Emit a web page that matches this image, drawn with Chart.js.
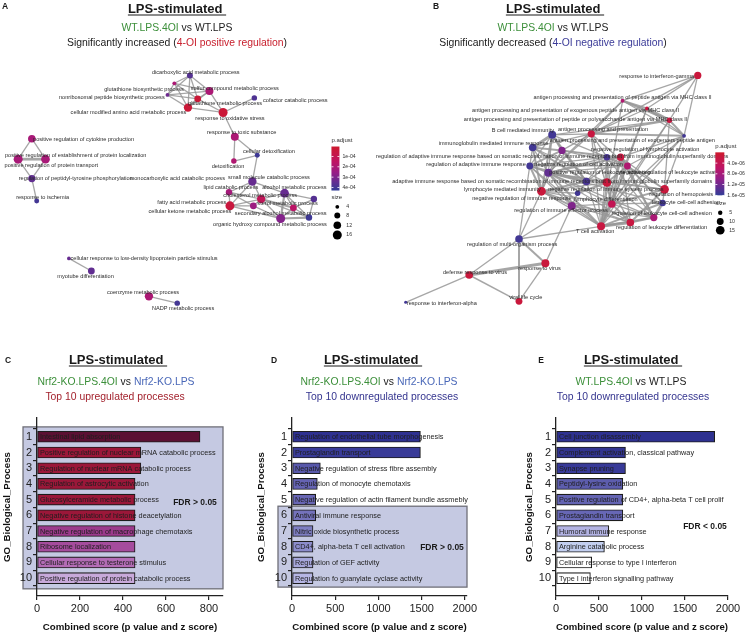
<!DOCTYPE html>
<html>
<head>
<meta charset="utf-8">
<script src="https://cdn.jsdelivr.net/npm/chart.js@4.4.0/dist/chart.umd.min.js"></script>
<style>
  html, body { margin: 0; padding: 0; background: #fff; }
  #fig { position: relative; width: 748px; height: 633px; overflow: hidden;
         font-family: "Liberation Sans", Arial, sans-serif; color: #1a1a1a; }
  canvas { position: absolute; }
  .t { position: absolute; transform: translate(-50%, -50%); white-space: nowrap; line-height: 1; z-index: 2; }
  .hd { font-weight: bold; font-size: 13px; text-decoration: underline; text-underline-offset: 2px; }
  .sub { font-size: 10.4px; }
  .lt { font-weight: bold; font-size: 8.5px; }
  .fdr { font-weight: bold; font-size: 8.5px; }
  .g { color: #3c8f3a; }
  .r { color: #c8202e; }
  .b { color: #3b3b98; }
  .kb { color: #4a68b8; }
  .up { color: #a3222d; }
  .dn { color: #35358f; }
</style>
</head>
<body>
<div id="fig">
  <canvas id="netA" width="374" height="330" style="left:0;top:0"></canvas>
  <canvas id="netB" width="374" height="330" style="left:374px;top:0"></canvas>
  <canvas id="barC" width="250" height="303" style="left:0;top:330px"></canvas>
  <canvas id="barD" width="250" height="303" style="left:250px;top:330px"></canvas>
  <canvas id="barE" width="250" height="303" style="left:498px;top:330px"></canvas>

  <div class="t lt" style="left:5px;top:6px">A</div>
  <div class="t hd" style="left:177px;top:8px">LPS-stimulated&nbsp;</div>
  <div class="t sub" style="left:177px;top:28px"><span class="g">WT.LPS.4OI</span> vs WT.LPS</div>
  <div class="t sub" style="left:177px;top:43px">Significantly increased (<span class="r">4-OI positive regulation</span>)</div>

  <div class="t lt" style="left:436px;top:6px">B</div>
  <div class="t hd" style="left:555px;top:8px">LPS-stimulated&nbsp;</div>
  <div class="t sub" style="left:553px;top:28px"><span class="g">WT.LPS.4OI</span> vs WT.LPS</div>
  <div class="t sub" style="left:553px;top:43px">Significantly decreased (<span class="b">4-OI negative regulation</span>)</div>

  <div class="t lt" style="left:8px;top:360px">C</div>
  <div class="t hd" style="left:118px;top:359px">LPS-stimulated&nbsp;</div>
  <div class="t sub" style="left:116px;top:382px"><span class="g">Nrf2-KO.LPS.4OI</span> vs <span class="kb">Nrf2-KO.LPS</span></div>
  <div class="t sub up" style="left:115px;top:397px">Top 10 upregulated processes</div>
  <div class="t fdr" style="left:195px;top:502px">FDR &gt; 0.05</div>

  <div class="t lt" style="left:274px;top:360px">D</div>
  <div class="t hd" style="left:373px;top:359px">LPS-stimulated&nbsp;</div>
  <div class="t sub" style="left:379px;top:382px"><span class="g">Nrf2-KO.LPS.4OI</span> vs <span class="kb">Nrf2-KO.LPS</span></div>
  <div class="t sub dn" style="left:382px;top:397px">Top 10 downregulated processes</div>
  <div class="t fdr" style="left:442px;top:547px">FDR &gt; 0.05</div>

  <div class="t lt" style="left:541px;top:360px">E</div>
  <div class="t hd" style="left:633px;top:359px">LPS-stimulated&nbsp;</div>
  <div class="t sub" style="left:631px;top:382px"><span class="g">WT.LPS.4OI</span> vs WT.LPS</div>
  <div class="t sub dn" style="left:633px;top:397px">Top 10 downregulated processes</div>
  <div class="t fdr" style="left:705px;top:526px">FDR &lt; 0.05</div>
</div>

<script>
// ---- bar panels (C, D, E) ----
const rank = [1, 2, 3, 4, 5, 6, 7, 8, 9, 10];

const cTerms = [
  'Intestinal lipid absorption',
  'Positive regulation of nuclear mRNA catabolic process',
  'Regulation of nuclear mRNA catabolic process',
  'Regulation of astrocytic activation',
  'Glucosylceramide metabolic process',
  'Negative regulation of histone deacetylation',
  'Negative regulation of macrophage chemotaxis',
  'Ribosome localization',
  'Cellular response to testerone stimulus',
  'Positive regulation of protein catabolic process'
];
const cScores = [758, 483, 483, 456, 456, 456, 456, 456, 456, 456];
const cTicks = [0, 200, 400, 600, 800];

const dTerms = [
  'Regulation of endothelial tube morphogenesis',
  'Prostaglandin transport',
  'Negative regulation of stress fibre assembly',
  'Regulation of monocyte chemotaxis',
  'Negative regulation of actin filament bundle assmebly',
  'Antiviral immune response',
  'Nitric oxide biosynthetic process',
  'CD4+, alpha-beta T cell activation',
  'Regulation of GEF activity',
  'Regulation fo guanylate cyclase activity'
];
const dScores = [1486, 1486, 328, 293, 274, 274, 243, 243, 243, 243];

const eTerms = [
  'Cell junction disassembly',
  'Complement activation, classical pathway',
  'Synapse pruning',
  'Peptidyl-lysine oxidation',
  'Positive regulation of CD4+, alpha-beta T cell prolif',
  'Prostaglandin transport',
  'Humoral immune response',
  'Arginine catabolic process',
  'Cellular response to type I interferon',
  'Type I interferon signalling pathway'
];
const eScores = [1845, 808, 808, 777, 777, 777, 614, 563, 415, 400];
const deTicks = [0, 500, 1000, 1500, 2000];

// bar fill colours
const cColors = ['#5b1033', '#9b1739', '#9b1739', '#9b1739', '#9b1739', '#9b1739',
                 '#9c3a8c', '#a54c9d', '#b36cb5', '#c8a9da'];
const dColors = ['#2e3090', '#393b98', '#5858aa', '#6563b2', '#6866b4', '#7472bc',
                 '#7e7ec2', '#8c8ccb', '#a6a6da', '#b6b6e4'];
const eColors = ['#2e3190', '#32348f', '#383a98', '#5d5dae', '#6464b3', '#6767b5',
                 '#b3b3e3', '#c3cff0', '#ffffff', '#ffffff'];

// ---- network panels (A, B) ----
const aIds = ['dicarb', 'gbio', 'sulfur', 'nonrib', 'gmet', 'cmaa', 'cofact', 'ros', 'rts',
  'pcyto', 'cdetox', 'pepl', 'ppt', 'rptp', 'isch', 'detox', 'smc', 'mcc', 'alcohol', 'chol',
  'ster', 'fatty', 'ketone', 'lipid', 'secalc', 'ohc', 'ldl', 'myo', 'coenz', 'nadp'];
const aNames = ['dicarboxylic acid metabolic process', 'glutathione biosynthetic process',
  'sulfur compound metabolic process', 'nonribosomal peptide biosynthetic process',
  'glutathione metabolic process', 'cellular modified amino acid metabolic process',
  'cofactor catabolic process', 'response to oxidative stress', 'response to toxic substance',
  'positive regulation of cytokine production', 'cellular detoxification',
  'positive regulation of establishment of protein localization',
  'positive regulation of protein transport', 'regulation of peptidyl-tyrosine phosphorylation',
  'response to ischemia', 'detoxification', 'small molecule catabolic process',
  'monocarboxylic acid catabolic process', 'alcohol metabolic process',
  'cholesterol metabolic process', 'sterol metabolic process', 'fatty acid metabolic process',
  'cellular ketone metabolic process', 'lipid catabolic process',
  'secondary alcohol metabolic process', 'organic hydroxy compound metabolic process',
  'cellular response to low-density lipoprotein particle stimulus', 'myotube differentiation',
  'coenzyme metabolic process', 'NADP metabolic process'];
const aX = [190, 174, 210, 167, 198, 188, 256, 224, 236, 28, 259, 14, 42, 28, 33, 235, 254, 230,
  287, 263, 296, 231, 255, 317, 312, 283, 66, 89, 148, 177];
const aY = [73, 81, 89, 93, 97, 106, 96, 111, 136, 138, 155, 159, 159, 179, 202, 161, 182, 193,
  194, 200, 209, 207, 207, 200, 219, 220, 261, 274, 300, 307];
const aSize = [8, 4, 13, 4, 10, 14, 7, 16, 13, 12, 6, 16, 15, 11, 6, 7, 14, 9, 15, 14, 10, 16,
  10, 9, 9, 16, 4, 10, 14, 7];
const aPadj = [3.7e-4, 2.0e-4, 2.0e-4, 3.3e-4, 0.3e-4, 0.3e-4, 3.8e-4, 0.3e-4, 2.0e-4, 2.1e-4,
  4.1e-4, 2.1e-4, 2.1e-4, 3.5e-4, 4.0e-4, 1.9e-4, 3.4e-4, 2.2e-4, 3.4e-4, 1.2e-4, 1.6e-4, 0.5e-4,
  2.4e-4, 3.7e-4, 4.1e-4, 2.9e-4, 3.4e-4, 3.5e-4, 2.0e-4, 4.0e-4];
const aLabelX = [196, 143, 236, 110, 226, 127, 298, 231, 243, 81, 271, 73, 48, 73, 39, 229, 271,
  177, 297, 262, 290, 192, 190, 232, 283, 272, 143, 83, 142, 183];
const aLabelY = [70, 87, 86, 96, 102, 111, 99, 117, 132, 139, 151, 155, 165, 179, 198, 166, 178,
  179, 188, 196, 205, 204, 213, 188, 215, 226, 261, 280, 296, 312];
const aEdges = [
  ['dicarb', 'gbio'], ['dicarb', 'nonrib'], ['dicarb', 'gmet'], ['dicarb', 'cmaa'], ['dicarb', 'sulfur'],
  ['gbio', 'nonrib'], ['gbio', 'gmet'], ['gbio', 'cmaa'], ['gbio', 'sulfur'], ['nonrib', 'gmet'],
  ['nonrib', 'cmaa'], ['nonrib', 'sulfur'], ['gmet', 'cmaa', 2.2], ['gmet', 'sulfur'], ['cmaa', 'sulfur'],
  ['gmet', 'ros'], ['cmaa', 'ros'], ['sulfur', 'ros'], ['cofact', 'ros'], ['ros', 'rts'],
  ['rts', 'cdetox'], ['rts', 'detox'], ['detox', 'cdetox'], ['cdetox', 'smc'],
  ['smc', 'mcc'], ['smc', 'alcohol'], ['smc', 'chol'], ['smc', 'fatty'], ['mcc', 'fatty'],
  ['mcc', 'chol'], ['mcc', 'ketone'], ['alcohol', 'chol'], ['alcohol', 'ster'], ['alcohol', 'lipid'],
  ['alcohol', 'secalc'], ['alcohol', 'ohc', 2.2], ['chol', 'fatty'], ['chol', 'ster', 2.2], ['chol', 'ketone'],
  ['chol', 'ohc'], ['chol', 'secalc'], ['fatty', 'ketone'], ['fatty', 'ohc'], ['ster', 'lipid'],
  ['ster', 'secalc'], ['ster', 'ohc'], ['secalc', 'ohc', 2.2], ['lipid', 'secalc'], ['ketone', 'ohc'],
  ['pcyto', 'pepl'], ['pcyto', 'ppt'], ['pepl', 'ppt', 2.8], ['pepl', 'rptp'], ['ppt', 'rptp'],
  ['rptp', 'isch'], ['ldl', 'myo'], ['coenz', 'nadp']
];
const aPadjTicks = [1e-4, 2e-4, 3e-4, 4e-4];
const aPadjLabels = ['1e-04', '2e-04', '3e-04', '4e-04'];
const aSizeTicks = [4, 8, 12, 16];

const bIds = ['ifng', 'mhc2', 'exmhc2', 'polymhc2', 'exo', 'bcell', 'app', 'igmed', 'radsr', 'nrla',
  'rla', 'nrca', 'raim', 'prla', 'airs', 'nrisp', 'nrir', 'lmi', 'rhemo', 'ldiff', 'lcca', 'riep',
  'rlcca', 'rld', 'tcell', 'rmop', 'rvirus', 'drv', 'vlc', 'ifna'];
const bNames = ['response to interferon-gamma',
  'antigen processing and presentation of peptide antigen via MHC class II',
  'antigen processing and presentation of exogenous peptide antigen via MHC class II',
  'antigen processing and presentation of peptide or polysaccharide antigen via MHC class II',
  'antigen processing and presentation of exogenous peptide antigen',
  'B cell mediated immunity', 'antigen processing and presentation',
  'immunoglobulin mediated immune response',
  'regulation of adaptive immune response based on somatic recombination of immune receptors built from immunoglobulin superfamily domains',
  'negative regulation of lymphocyte activation', 'negative regulation of leukocyte activation',
  'negative regulation of cell activation', 'regulation of adaptive immune response',
  'positive regulation of leukocyte activation',
  'adaptive immune response based on somatic recombination of immune receptors built from immunoglobulin superfamily domains',
  'negative regulation of immune system process', 'negative regulation of immune response',
  'lymphocyte mediated immunity', 'regulation of hemopoiesis', 'lymphocyte differentiation',
  'leukocyte cell-cell adhesion', 'regulation of immune effector process',
  'regulation of leukocyte cell-cell adhesion', 'regulation of leukocyte differentiation',
  'T cell activation', 'regulation of multi-organism process', 'response to virus',
  'defense response to virus', 'viral life cycle', 'response to interferon-alpha'];
const bX = [701, 624, 649, 672, 687, 552, 592, 532, 562, 608, 622, 629, 529, 548, 587, 608, 578,
  541, 667, 613, 665, 572, 656, 632, 602, 518, 545, 467, 518, 402];
const bY = [73, 99, 107, 119, 135, 134, 133, 147, 150, 157, 157, 166, 166, 173, 182, 183, 194,
  192, 190, 205, 204, 207, 219, 224, 228, 241, 266, 278, 305, 306];
const bSize = [11, 4, 4, 7, 4, 13, 11, 12, 11, 9, 11, 10, 10, 13, 12, 15, 7, 15, 15, 12, 9, 13,
  11, 12, 13, 12, 13, 12, 10, 3];
const bPadj = [1.5e-6, 7e-6, 2e-6, 2e-6, 1.5e-5, 1.5e-5, 2e-6, 1.5e-5, 1.1e-5, 1.45e-5, 2e-6,
  7e-6, 1.5e-5, 1.3e-5, 1.45e-5, 1.5e-6, 1.5e-5, 1.5e-6, 1.5e-6, 4e-6, 1.5e-5, 1.1e-5, 7.5e-6,
  2e-6, 2e-6, 1.5e-5, 1.5e-6, 1.5e-6, 1.5e-6, 1.5e-5];
const bLabelX = [659, 624, 576, 576, 634, 522, 604, 492, 552, 647, 674, 579, 474, 601, 552, 607,
  521, 501, 684, 607, 689, 561, 664, 664, 596, 511, 539, 473, 525, 439];
const bLabelY = [74, 96, 109, 118, 140, 130, 128, 143, 156, 149, 173, 164, 164, 173, 182, 190,
  199, 190, 195, 200, 203, 212, 215, 229, 233, 247, 271, 275, 301, 307];
const bEdges = [
  ['ifng', 'mhc2'], ['ifng', 'exo'], ['ifng', 'polymhc2'], ['ifng', 'app'], ['ifng', 'exmhc2'],
  ['mhc2', 'exmhc2', 2], ['mhc2', 'polymhc2', 2], ['mhc2', 'app'], ['mhc2', 'exo'], ['mhc2', 'tcell'],
  ['mhc2', 'prla'], ['exmhc2', 'polymhc2', 3], ['exmhc2', 'app'], ['exmhc2', 'exo'], ['exmhc2', 'ldiff'],
  ['exmhc2', 'tcell'], ['polymhc2', 'exo', 2], ['polymhc2', 'app', 2], ['polymhc2', 'rhemo'],
  ['polymhc2', 'bcell'], ['polymhc2', 'tcell'], ['polymhc2', 'ldiff'],
  ['app', 'exo', 2], ['app', 'bcell'], ['app', 'igmed'], ['app', 'radsr'], ['app', 'nrca'], ['app', 'nrla'],
  ['app', 'prla'], ['app', 'tcell'], ['app', 'ldiff'],
  ['exo', 'nrca'], ['exo', 'rhemo'], ['exo', 'tcell'], ['exo', 'ldiff'], ['exo', 'rla'],
  ['bcell', 'igmed', 3], ['bcell', 'radsr', 2], ['bcell', 'lmi', 2], ['bcell', 'airs', 2], ['bcell', 'raim'],
  ['bcell', 'nrla'], ['bcell', 'prla'],
  ['igmed', 'radsr', 2], ['igmed', 'lmi', 2], ['igmed', 'airs', 2], ['igmed', 'raim'], ['igmed', 'prla'],
  ['igmed', 'nrisp'],
  ['radsr', 'raim', 2], ['radsr', 'airs', 2], ['radsr', 'lmi'], ['radsr', 'nrla'], ['radsr', 'prla'],
  ['radsr', 'nrca'], ['radsr', 'rla'],
  ['raim', 'airs', 2], ['raim', 'lmi', 2], ['raim', 'prla'], ['raim', 'riep'], ['raim', 'nrla'],
  ['raim', 'tcell'], ['raim', 'nrca'],
  ['airs', 'lmi', 2], ['airs', 'prla'], ['airs', 'nrisp'], ['airs', 'nrla'], ['airs', 'rla'], ['airs', 'tcell'],
  ['lmi', 'prla'], ['lmi', 'riep', 2], ['lmi', 'tcell'], ['lmi', 'nrisp'], ['lmi', 'ldiff'], ['lmi', 'rld'],
  ['nrla', 'nrca', 2], ['nrla', 'rla', 3], ['nrla', 'prla'], ['nrla', 'nrisp', 2], ['nrla', 'ldiff'],
  ['nrla', 'rlcca'], ['nrla', 'tcell'], ['rla', 'nrca', 2], ['rla', 'prla', 2], ['rla', 'ldiff', 2],
  ['rla', 'tcell', 2], ['rla', 'rlcca', 2], ['rla', 'rld'], ['rla', 'lcca'], ['rla', 'rhemo'],
  ['nrca', 'prla'], ['nrca', 'nrisp', 2], ['nrca', 'ldiff'], ['nrca', 'rlcca'], ['nrca', 'tcell'],
  ['nrca', 'lcca'], ['nrca', 'rhemo'], ['prla', 'nrisp'], ['prla', 'ldiff'], ['prla', 'tcell', 2],
  ['prla', 'rlcca'], ['prla', 'riep'], ['prla', 'rld'], ['prla', 'lcca'], ['prla', 'rhemo'],
  ['nrisp', 'nrir', 2], ['nrisp', 'ldiff'], ['nrisp', 'tcell'], ['nrisp', 'rhemo'], ['nrisp', 'rld'],
  ['nrisp', 'rlcca'], ['nrir', 'riep'], ['nrir', 'lmi'], ['nrir', 'airs'],
  ['ldiff', 'tcell', 2], ['ldiff', 'rld', 2], ['ldiff', 'rlcca'], ['ldiff', 'lcca'], ['ldiff', 'rhemo', 2],
  ['tcell', 'rld', 3], ['tcell', 'rlcca', 2], ['tcell', 'lcca', 2], ['rld', 'rlcca', 2], ['rld', 'rhemo', 2],
  ['rlcca', 'lcca', 3], ['lcca', 'rhemo'], ['riep', 'tcell'], ['riep', 'ldiff'], ['riep', 'rld'],
  ['riep', 'rlcca'],
  ['rmop', 'lmi'], ['rmop', 'riep'], ['rmop', 'tcell'], ['rmop', 'raim'], ['rmop', 'rvirus', 2],
  ['rmop', 'drv'], ['rmop', 'vlc', 2], ['rvirus', 'drv', 3], ['rvirus', 'vlc'], ['rvirus', 'riep'],
  ['drv', 'vlc', 1.5], ['drv', 'ifna']
];
const bPadjTicks = [4e-6, 8e-6, 1.2e-5, 1.6e-5];
const bPadjLabels = ['4.0e-06', '8.0e-06', '1.2e-05', '1.6e-05'];
const bSizeTicks = [5, 10, 15];

// p.adjust colour ramp: low (red) -> high (blue)
const ramp = [[0, [205, 25, 45]], [0.35, [190, 20, 100]], [0.6, [150, 30, 135]],
              [0.8, [100, 45, 145]], [1, [50, 60, 150]]];

function rampColor(t) {
    t = Math.max(0, Math.min(1, t));
    for (let i = 1; i < ramp.length; i++) {
        if (t <= ramp[i][0]) {
            const [t0, c0] = ramp[i - 1];
            const [t1, c1] = ramp[i];
            const f = (t - t0) / (t1 - t0);
            const c = c0.map((v, k) => Math.round(v + (c1[k] - v) * f));
            return `rgb(${c[0]},${c[1]},${c[2]})`;
        }
    }
    return 'rgb(50,60,150)';
}

function nodeRadius(size) {
    return 1.3 * Math.sqrt(size) - 0.7;
}

const labelFont = '5.6px "Liberation Sans", Arial, sans-serif';

function netChart(id, net, lg) {
    const idx = {};
    net.ids.forEach((k, i) => { idx[k] = i; });
    const pt = i => ({ x: net.x[i], y: net.y[i] });

    const edgeSets = net.edges.map(e => ({
        data: [pt(idx[e[0]]), pt(idx[e[1]])],
        showLine: true,
        borderColor: 'rgba(150,150,150,0.85)',
        borderWidth: e[2] || 1.3,
        pointRadius: 0,
        clip: false,
        order: 1
    }));

    const labels = {
        id: 'netLabels',
        afterDatasetsDraw(chart) {
            const { ctx, scales: { x, y } } = chart;
            ctx.save();
            ctx.font = labelFont;
            ctx.fillStyle = '#2b2b2b';
            ctx.textAlign = 'center';
            ctx.textBaseline = 'middle';
            net.names.forEach((n, i) => {
                ctx.fillText(n, x.getPixelForValue(net.lx[i]), y.getPixelForValue(net.ly[i]));
            });

            // p.adjust colour bar
            const bx = x.getPixelForValue(lg.barX);
            const by = y.getPixelForValue(lg.barTop);
            const grd = ctx.createLinearGradient(0, by, 0, by + lg.barH);
            ramp.forEach(s => grd.addColorStop(s[0], rampColor(s[0])));
            ctx.fillStyle = grd;
            ctx.fillRect(bx, by, lg.barW, lg.barH);
            ctx.fillStyle = '#333';
            ctx.textAlign = 'left';
            ctx.font = '6px "Liberation Sans", Arial, sans-serif';
            ctx.fillText('p.adjust', bx, by - 6);
            ctx.font = '5.2px "Liberation Sans", Arial, sans-serif';
            lg.ticks.forEach((v, i) => {
                const ty = by + (v - net.pMin) / (net.pMax - net.pMin) * lg.barH;
                ctx.fillStyle = '#fff';
                ctx.fillRect(bx, ty - 0.4, 2, 0.8);
                ctx.fillRect(bx + lg.barW - 2, ty - 0.4, 2, 0.8);
                ctx.fillStyle = '#333';
                ctx.fillText(lg.tickLabels[i], bx + lg.barW + 3, ty);
            });

            // size legend
            ctx.font = '6px "Liberation Sans", Arial, sans-serif';
            ctx.fillText('size', bx, y.getPixelForValue(lg.sizeTitleY));
            ctx.font = '5.2px "Liberation Sans", Arial, sans-serif';
            lg.sizes.forEach((s, i) => {
                const cy = y.getPixelForValue(lg.sizeY[i]);
                const cx = x.getPixelForValue(lg.sizeX);
                ctx.fillStyle = '#000';
                ctx.beginPath();
                ctx.arc(cx, cy, nodeRadius(s), 0, Math.PI * 2);
                ctx.fill();
                ctx.fillStyle = '#333';
                ctx.fillText(String(s), cx + 9, cy);
            });
            ctx.restore();
        }
    };

    return new Chart(document.getElementById(id), {
        type: 'scatter',
        data: {
            datasets: [{
                data: net.x.map((v, i) => pt(i)),
                pointRadius: net.size.map(nodeRadius),
                pointBackgroundColor: net.padj.map(p => rampColor((p - net.pMin) / (net.pMax - net.pMin))),
                pointBorderWidth: 0,
                clip: false,
                order: 0
            }].concat(edgeSets)
        },
        options: {
            responsive: false,
            animation: false,
            devicePixelRatio: 1,
            layout: { padding: 0 },
            plugins: { legend: { display: false }, tooltip: { enabled: false } },
            scales: {
                x: { type: 'linear', display: false, min: net.xMin, max: net.xMin + 374 },
                y: { type: 'linear', display: false, reverse: true, min: 0, max: 330 }
            }
        },
        plugins: [labels]
    });
}

function barChart(id, p) {
    const panel = {
        id: 'panelExtras',
        beforeDraw(chart) {
            if (!p.box) return;
            const { ctx, scales: { x, y } } = chart;
            const x0 = x.getPixelForValue(p.box.x0), x1 = x.getPixelForValue(p.box.x1);
            const y0 = y.getPixelForValue(p.box.y0), y1 = y.getPixelForValue(p.box.y1);
            ctx.save();
            ctx.fillStyle = '#c5c9e2';
            ctx.fillRect(x0, y0, x1 - x0, y1 - y0);
            ctx.strokeStyle = '#6f6f78';
            ctx.lineWidth = 1.3;
            ctx.strokeRect(x0, y0, x1 - x0, y1 - y0);
            ctx.restore();
        },
        afterDatasetsDraw(chart) {
            const { ctx, scales: { x, y } } = chart;
            ctx.save();
            ctx.font = '7.3px "Liberation Sans", Arial, sans-serif';
            ctx.fillStyle = '#1e1e1e';
            ctx.textBaseline = 'middle';
            p.terms.forEach((t, i) => {
                ctx.fillText(t, x.getPixelForValue(0) + 3, y.getPixelForValue(rank[i]) + 0.5);
            });
            ctx.restore();
        }
    };

    return new Chart(document.getElementById(id), {
        type: 'bar',
        data: {
            datasets: [{
                data: p.scores.map((v, i) => ({ x: v, y: rank[i] })),
                backgroundColor: p.colors,
                borderColor: '#1c1c1c',
                borderWidth: 1.1,
                borderSkipped: false,
                barThickness: 11
            }]
        },
        options: {
            indexAxis: 'y',
            responsive: false,
            animation: false,
            devicePixelRatio: 1,
            layout: { padding: { left: 0, right: p.padRight, top: 88, bottom: 0 } },
            plugins: { legend: { display: false }, tooltip: { enabled: false } },
            scales: {
                x: {
                    type: 'linear', min: 0, max: p.xMax,
                    afterBuildTicks: s => { s.ticks = p.ticks.map(v => ({ value: v })); },
                    afterFit: s => { s.height = 37; },
                    grid: { drawOnChartArea: false, drawTicks: true, tickLength: 4, color: '#222', lineWidth: 1.2 },
                    border: { display: true, color: '#222', width: 1.3 },
                    ticks: { color: '#222', padding: 2, font: { size: 11 }, maxRotation: 0,
                             callback: v => String(v) },
                    title: { display: true, text: 'Combined score (p value and z score)', color: '#111',
                             font: { size: 9.7, weight: 'bold' }, padding: { top: 0, bottom: 0 } }
                },
                y: {
                    type: 'linear', reverse: true, min: 0.37, max: 10.57,
                    afterBuildTicks: s => { s.ticks = rank.map(v => ({ value: v })); },
                    afterFit: s => { s.width = p.axisW; },
                    grid: { drawOnChartArea: false, drawTicks: true, tickLength: 4, color: '#222', lineWidth: 1.2 },
                    border: { display: true, color: '#222', width: 1.3 },
                    ticks: { color: '#222', padding: 1, font: { size: 11 }, callback: v => String(v) },
                    title: { display: true, text: 'GO_Biological_Process', color: '#111',
                             font: { size: 9.7, weight: 'bold' }, padding: { top: p.titlePad, bottom: 0 } }
                }
            }
        },
        plugins: [panel]
    });
}

Chart.defaults.font.family = '"Liberation Sans", Arial, sans-serif';

netChart('netA', {
    ids: aIds, names: aNames, x: aX, y: aY, size: aSize, padj: aPadj,
    lx: aLabelX, ly: aLabelY, edges: aEdges, pMin: 0.03e-4, pMax: 4.3e-4, xMin: 0
}, {
    barX: 335, barTop: 146, barW: 8, barH: 44, ticks: aPadjTicks, tickLabels: aPadjLabels,
    sizeTitleY: 198, sizes: aSizeTicks, sizeY: [208, 217, 227, 237], sizeX: 341
});

netChart('netB', {
    ids: bIds, names: bNames, x: bX, y: bY, size: bSize, padj: bPadj,
    lx: bLabelX, ly: bLabelY, edges: bEdges, pMin: 0, pMax: 1.6e-5, xMin: 374
}, {
    barX: 719, barTop: 152, barW: 9, barH: 43, ticks: bPadjTicks, tickLabels: bPadjLabels,
    sizeTitleY: 204, sizes: bSizeTicks, sizeY: [214, 223, 232], sizeX: 724
});

barChart('barC', {
    terms: cTerms, scores: cScores, colors: cColors, ticks: cTicks, xMax: 865,
    axisW: 37, padRight: 27, titlePad: 1.4,
    box: { x0: -65, x1: 865, y0: 0.37, y1: 10.68 }
});
barChart('barD', {
    terms: dTerms, scores: dScores, colors: dColors, ticks: deTicks, xMax: 2025,
    axisW: 42, padRight: 33, titlePad: 5.4,
    box: { x0: -162, x1: 2025, y0: 5.42, y1: 10.57 }
});
barChart('barE', {
    terms: eTerms, scores: eScores, colors: eColors, ticks: deTicks, xMax: 2000,
    axisW: 58, padRight: 20, titlePad: 25.4
});
</script>
</body>
</html>
